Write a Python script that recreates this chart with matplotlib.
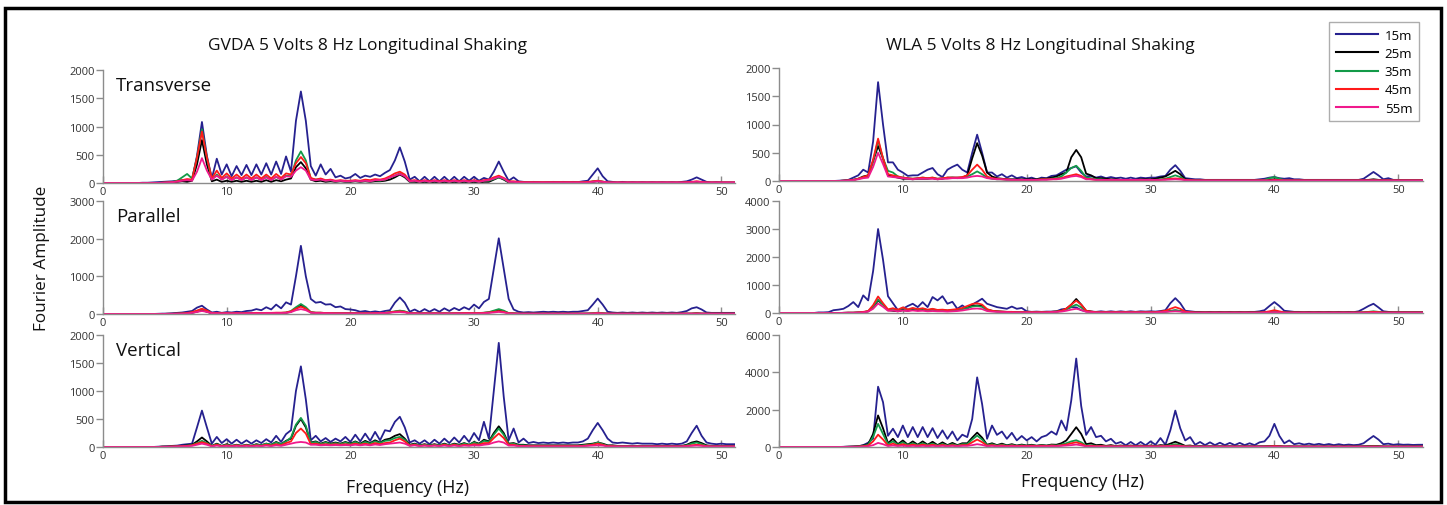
import numpy as np
import matplotlib
matplotlib.use("Agg")
import matplotlib.pyplot as plt
from matplotlib.lines import Line2D
from matplotlib.patches import Rectangle

plt.rcParams["font.family"] = ["Open Sans", "DejaVu Sans"]

freq = np.round(np.arange(131) * 0.4, 1)

depths = ["15m", "25m", "35m", "45m", "55m"]
colors = ["#26218f", "#000000", "#139a48", "#ff1a1a", "#f0198c"]

# GVDA - Transverse
gt15 = [
    0, 0, 0, 0, 0, 0, 0, 0, 5, 5,
    10, 15, 20, 25, 30, 40, 50, 40, 60, 480,
    1080, 480, 80, 430, 150, 330, 120, 300, 140, 320,
    140, 330, 150, 350, 150, 380, 160, 470, 200, 1100,
    1620, 1100, 300, 130, 330, 150, 250, 100, 130, 80,
    100, 160, 90, 130, 110, 150, 120, 180, 230, 400,
    630, 380, 60, 110, 30, 110, 30, 110, 30, 110,
    30, 110, 30, 110, 40, 110, 40, 90, 60, 200,
    380, 200, 40, 100, 30, 20, 15, 20, 15, 10,
    15, 20, 15, 20, 15, 20, 15, 30, 40, 150,
    260, 120, 30, 20, 10, 20, 10, 15, 10, 15,
    10, 15, 10, 15, 10, 15, 10, 20, 30, 60,
    100, 60, 20, 10, 15, 10, 10, 10, 10, 10,
    10,
]
gt25 = [
    0, 0, 0, 0, 0, 0, 0, 0, 0, 0,
    0, 0, 5, 5, 10, 20, 30, 20, 40, 330,
    760, 330, 30, 60, 20, 40, 20, 40, 20, 40,
    20, 40, 20, 50, 20, 50, 30, 60, 80, 280,
    370, 260, 60, 30, 40, 20, 30, 20, 30, 20,
    20, 30, 20, 30, 20, 30, 30, 40, 60, 100,
    150, 100, 20, 20, 10, 20, 10, 20, 10, 20,
    10, 20, 10, 20, 10, 20, 10, 20, 20, 60,
    100, 60, 10, 10, 5, 5, 5, 5, 5, 5,
    5, 5, 5, 5, 5, 5, 5, 5, 10, 20,
    30, 20, 5, 5, 5, 5, 5, 5, 5, 5,
    5, 5, 5, 5, 5, 5, 5, 5, 5, 10,
    20, 10, 5, 5, 5, 5, 5, 5, 5, 5,
    5,
]
gt35 = [
    0, 0, 0, 0, 0, 0, 0, 0, 0, 0,
    0, 0, 5, 10, 20, 40, 100, 160, 80, 450,
    950, 450, 60, 150, 60, 120, 50, 100, 50, 100,
    50, 100, 50, 110, 50, 110, 60, 130, 120, 400,
    560, 400, 80, 60, 70, 40, 50, 30, 40, 30,
    30, 40, 30, 40, 30, 50, 40, 60, 100, 130,
    170, 120, 30, 40, 20, 40, 20, 40, 20, 40,
    20, 40, 20, 40, 20, 40, 20, 40, 40, 70,
    100, 70, 20, 20, 10, 10, 10, 10, 10, 10,
    10, 10, 10, 10, 10, 10, 10, 10, 10, 30,
    40, 25, 10, 5, 5, 5, 5, 5, 5, 5,
    5, 5, 5, 5, 5, 5, 5, 5, 5, 10,
    20, 10, 5, 5, 5, 5, 5, 5, 5, 5,
    5,
]
gt45 = [
    0, 0, 0, 0, 0, 0, 0, 0, 0, 0,
    0, 0, 5, 10, 15, 30, 50, 70, 60, 450,
    910, 450, 80, 220, 90, 170, 80, 150, 80, 150,
    80, 150, 80, 150, 80, 160, 90, 170, 150, 350,
    460, 350, 90, 60, 80, 50, 60, 40, 50, 40,
    40, 50, 40, 60, 50, 70, 60, 80, 120, 170,
    200, 150, 40, 50, 30, 50, 30, 50, 30, 50,
    30, 50, 30, 50, 30, 50, 30, 50, 60, 100,
    130, 90, 30, 30, 20, 15, 15, 15, 15, 15,
    15, 15, 15, 15, 15, 15, 15, 15, 20, 30,
    40, 25, 10, 10, 10, 10, 10, 10, 10, 10,
    10, 10, 10, 10, 10, 10, 10, 10, 15, 20,
    30, 20, 10, 10, 10, 10, 10, 10, 10, 10,
    10,
]
gt55 = [
    0, 0, 0, 0, 0, 0, 0, 0, 0, 0,
    0, 0, 5, 10, 15, 25, 40, 50, 40, 200,
    440, 220, 60, 130, 60, 110, 50, 100, 50, 100,
    50, 100, 50, 100, 50, 110, 60, 120, 110, 220,
    280, 220, 60, 50, 60, 40, 50, 30, 40, 30,
    30, 40, 30, 40, 30, 50, 50, 60, 100, 130,
    160, 120, 30, 40, 20, 40, 20, 40, 20, 40,
    20, 40, 20, 40, 20, 40, 20, 40, 50, 80,
    110, 80, 20, 20, 10, 10, 10, 10, 10, 10,
    10, 10, 10, 10, 10, 10, 10, 10, 10, 20,
    30, 20, 10, 10, 10, 10, 10, 10, 10, 10,
    10, 10, 10, 10, 10, 10, 10, 10, 10, 15,
    25, 15, 10, 10, 10, 10, 10, 10, 10, 10,
    10,
]

# GVDA - Parallel
gp15 = [
    0, 0, 0, 0, 0, 0, 0, 0, 0, 0,
    0, 5, 10, 10, 20, 30, 40, 60, 80, 170,
    220, 120, 40, 60, 30, 50, 40, 60, 50, 80,
    90, 130, 100, 180, 120, 250, 150, 310, 250, 1000,
    1810, 1000, 400, 300, 320, 250, 260, 180, 200, 130,
    120, 100, 60, 80, 50, 70, 50, 80, 100, 300,
    440, 300, 60, 120, 50, 130, 60, 130, 60, 150,
    80, 160, 100, 180, 120, 250, 150, 320, 400, 1200,
    2010, 1200, 400, 120, 60, 40, 50, 40, 50, 60,
    50, 60, 50, 60, 50, 60, 60, 80, 100, 250,
    410, 250, 60, 40, 30, 40, 30, 40, 30, 40,
    30, 40, 30, 40, 30, 40, 30, 50, 80, 150,
    180, 120, 40, 30, 30, 30, 30, 30, 30, 30,
    30,
]
gp25 = [
    0, 0, 0, 0, 0, 0, 0, 0, 0, 0,
    0, 0, 0, 5, 5, 10, 10, 15, 30, 60,
    100, 60, 15, 15, 10, 15, 10, 15, 10, 15,
    15, 20, 15, 20, 20, 25, 25, 30, 60, 150,
    220, 150, 40, 30, 30, 20, 20, 15, 15, 15,
    15, 15, 15, 15, 15, 20, 20, 25, 40, 60,
    80, 60, 15, 15, 10, 15, 10, 15, 10, 15,
    10, 15, 15, 20, 20, 20, 20, 30, 40, 70,
    110, 70, 20, 15, 10, 10, 10, 10, 10, 10,
    10, 10, 10, 10, 10, 10, 10, 10, 10, 15,
    25, 15, 10, 10, 10, 10, 10, 10, 10, 10,
    10, 10, 10, 10, 10, 10, 10, 10, 10, 10,
    20, 10, 10, 10, 10, 10, 10, 10, 10, 10,
    10,
]
gp35 = [
    0, 0, 0, 0, 0, 0, 0, 0, 0, 0,
    0, 0, 0, 5, 5, 10, 15, 20, 40, 80,
    130, 80, 20, 20, 15, 20, 15, 20, 15, 20,
    20, 25, 20, 25, 25, 30, 30, 40, 80, 180,
    265, 180, 50, 35, 35, 25, 25, 20, 20, 20,
    20, 20, 20, 20, 20, 25, 25, 30, 50, 70,
    90, 70, 20, 20, 15, 20, 15, 20, 15, 20,
    15, 20, 20, 25, 25, 25, 25, 35, 50, 90,
    130, 90, 25, 20, 10, 10, 10, 10, 10, 10,
    10, 10, 10, 10, 10, 10, 10, 10, 15, 20,
    35, 20, 10, 10, 10, 10, 10, 10, 10, 10,
    10, 10, 10, 10, 10, 10, 10, 10, 10, 10,
    20, 10, 10, 10, 10, 10, 10, 10, 10, 10,
    10,
]
gp45 = [
    0, 0, 0, 0, 0, 0, 0, 0, 0, 0,
    0, 0, 0, 5, 5, 10, 15, 25, 50, 90,
    140, 90, 25, 25, 20, 25, 20, 25, 20, 25,
    25, 30, 25, 30, 30, 35, 35, 40, 70, 140,
    195, 140, 45, 35, 35, 25, 25, 20, 20, 20,
    20, 20, 20, 20, 20, 25, 25, 30, 45, 60,
    70, 55, 20, 20, 15, 20, 15, 20, 15, 20,
    15, 20, 20, 25, 25, 25, 25, 30, 40, 55,
    75, 55, 20, 15, 10, 10, 10, 10, 10, 10,
    10, 10, 10, 10, 10, 10, 10, 10, 10, 15,
    25, 15, 10, 10, 10, 10, 10, 10, 10, 10,
    10, 10, 10, 10, 10, 10, 10, 10, 10, 10,
    15, 10, 10, 10, 10, 10, 10, 10, 10, 10,
    10,
]
gp55 = [
    0, 0, 0, 0, 0, 0, 0, 0, 0, 0,
    0, 0, 0, 5, 5, 10, 10, 15, 30, 55,
    80, 55, 20, 20, 15, 20, 15, 20, 15, 20,
    20, 20, 20, 25, 25, 25, 25, 30, 50, 100,
    130, 100, 35, 25, 25, 20, 20, 15, 15, 15,
    15, 15, 15, 15, 15, 20, 20, 25, 35, 45,
    50, 40, 15, 15, 10, 15, 10, 15, 10, 15,
    10, 15, 15, 15, 15, 15, 15, 20, 30, 40,
    55, 40, 15, 10, 10, 10, 10, 10, 10, 10,
    10, 10, 10, 10, 10, 10, 10, 10, 10, 10,
    20, 10, 10, 10, 10, 10, 10, 10, 10, 10,
    10, 10, 10, 10, 10, 10, 10, 10, 10, 10,
    10, 10, 10, 10, 10, 10, 10, 10, 10, 10,
    10,
]

# GVDA - Vertical
gv15 = [
    0, 0, 0, 0, 0, 0, 0, 0, 0, 0,
    0, 5, 10, 15, 20, 25, 40, 50, 60, 350,
    650, 350, 60, 180, 70, 140, 60, 130, 60, 120,
    60, 120, 70, 140, 80, 200, 90, 230, 300, 1000,
    1440, 850, 120, 200, 100, 160, 90, 150, 100, 180,
    90, 220, 100, 240, 110, 270, 120, 300, 280, 450,
    540, 350, 80, 120, 60, 120, 50, 130, 60, 150,
    70, 170, 80, 200, 90, 250, 120, 450, 150, 1000,
    1860, 900, 120, 330, 80, 150, 70, 90, 70, 80,
    70, 80, 70, 80, 70, 80, 80, 100, 150, 300,
    430, 300, 150, 80, 70, 80, 70, 60, 70, 60,
    60, 60, 50, 60, 50, 60, 50, 60, 100, 250,
    380, 200, 80, 60, 50, 60, 50, 50, 50, 50,
    50,
]
gv25 = [
    0, 0, 0, 0, 0, 0, 0, 0, 0, 0,
    0, 0, 5, 5, 10, 10, 20, 30, 40, 100,
    170, 100, 20, 60, 20, 50, 20, 40, 20, 40,
    20, 50, 30, 60, 40, 90, 50, 110, 150, 380,
    500, 350, 80, 100, 60, 90, 60, 80, 60, 90,
    60, 100, 60, 110, 70, 120, 80, 130, 150, 200,
    230, 150, 40, 60, 30, 50, 30, 50, 30, 60,
    30, 60, 40, 70, 40, 90, 60, 130, 100, 250,
    370, 250, 60, 70, 40, 40, 30, 30, 30, 30,
    30, 30, 30, 30, 30, 30, 30, 40, 50, 60,
    80, 60, 30, 30, 20, 20, 20, 20, 20, 20,
    20, 20, 20, 20, 20, 20, 20, 20, 40, 80,
    100, 70, 30, 20, 20, 20, 20, 20, 20, 20,
    20,
]
gv35 = [
    0, 0, 0, 0, 0, 0, 0, 0, 0, 0,
    0, 0, 5, 5, 10, 10, 15, 25, 35, 70,
    110, 70, 20, 50, 20, 40, 20, 35, 20, 35,
    20, 45, 30, 60, 40, 80, 50, 100, 170, 400,
    520, 380, 70, 90, 50, 80, 50, 70, 50, 80,
    50, 90, 50, 90, 60, 100, 70, 110, 120, 160,
    180, 130, 30, 50, 30, 40, 30, 40, 30, 50,
    30, 50, 30, 60, 40, 80, 50, 110, 90, 220,
    330, 220, 50, 60, 30, 30, 20, 20, 20, 20,
    20, 20, 20, 20, 20, 20, 20, 30, 40, 50,
    80, 50, 20, 20, 15, 15, 15, 15, 15, 15,
    15, 15, 15, 15, 15, 15, 15, 15, 30, 60,
    80, 50, 20, 15, 15, 15, 15, 15, 15, 15,
    15,
]
gv45 = [
    0, 0, 0, 0, 0, 0, 0, 0, 0, 0,
    0, 0, 5, 5, 10, 10, 15, 20, 30, 60,
    85, 60, 15, 40, 15, 30, 15, 30, 15, 30,
    15, 30, 20, 40, 25, 50, 30, 70, 100, 250,
    330, 240, 50, 60, 40, 50, 40, 50, 40, 50,
    40, 60, 40, 60, 40, 70, 50, 70, 80, 120,
    150, 100, 25, 40, 20, 30, 20, 30, 20, 40,
    20, 40, 20, 40, 30, 50, 40, 70, 70, 160,
    240, 160, 40, 40, 20, 20, 15, 15, 15, 15,
    15, 15, 15, 15, 15, 15, 15, 20, 30, 40,
    60, 40, 15, 15, 10, 10, 10, 10, 10, 10,
    10, 10, 10, 10, 10, 10, 10, 10, 20, 30,
    40, 30, 15, 10, 10, 10, 10, 10, 10, 10,
    10,
]
gv55 = [
    0, 0, 0, 0, 0, 0, 0, 0, 0, 0,
    0, 0, 0, 5, 5, 10, 10, 15, 20, 40,
    60, 40, 10, 25, 10, 20, 10, 20, 10, 20,
    10, 20, 15, 25, 15, 30, 20, 40, 60, 80,
    90, 80, 40, 40, 30, 35, 30, 35, 30, 35,
    30, 40, 30, 40, 30, 45, 35, 50, 60, 70,
    80, 60, 20, 30, 15, 25, 15, 25, 15, 25,
    15, 25, 15, 25, 20, 30, 25, 40, 50, 80,
    100, 80, 25, 25, 15, 15, 10, 10, 10, 10,
    10, 10, 10, 10, 10, 10, 10, 15, 20, 25,
    30, 25, 10, 10, 10, 10, 10, 10, 10, 10,
    10, 10, 10, 10, 10, 10, 10, 10, 15, 20,
    25, 20, 10, 10, 10, 10, 10, 10, 10, 10,
    10,
]

# WLA - Transverse
wt15 = [
    0, 0, 0, 0, 0, 0, 0, 0, 0, 0,
    0, 0, 5, 10, 20, 60, 100, 200, 150, 700,
    1750, 1000, 330, 330, 200, 150, 90, 100, 100, 150,
    200, 230, 120, 70, 200, 250, 290, 200, 150, 500,
    820, 500, 150, 150, 80, 120, 60, 100, 50, 70,
    40, 60, 30, 60, 50, 90, 100, 150, 200, 230,
    260, 150, 80, 90, 60, 80, 50, 70, 50, 60,
    40, 60, 40, 60, 50, 60, 60, 80, 90, 200,
    280, 180, 50, 40, 30, 30, 20, 20, 20, 20,
    20, 20, 20, 20, 20, 20, 20, 30, 40, 60,
    70, 50, 40, 50, 30, 30, 20, 20, 20, 20,
    20, 20, 20, 20, 20, 20, 20, 20, 40, 100,
    160, 100, 30, 50, 20, 20, 15, 15, 15, 15,
    15,
]
wt25 = [
    0, 0, 0, 0, 0, 0, 0, 0, 0, 0,
    0, 0, 0, 5, 10, 20, 40, 80, 100, 350,
    620, 400, 100, 80, 60, 40, 40, 30, 40, 40,
    40, 50, 30, 40, 60, 60, 60, 60, 100, 400,
    670, 450, 150, 80, 50, 40, 30, 30, 30, 30,
    30, 30, 30, 40, 40, 60, 80, 120, 150, 420,
    550, 420, 130, 100, 50, 50, 40, 30, 30, 20,
    20, 20, 20, 30, 30, 30, 40, 60, 80, 130,
    180, 120, 30, 20, 15, 15, 15, 15, 15, 15,
    15, 15, 15, 15, 15, 15, 15, 15, 15, 20,
    30, 20, 15, 15, 15, 15, 15, 15, 15, 15,
    15, 15, 15, 15, 15, 15, 15, 15, 15, 20,
    30, 20, 15, 15, 15, 15, 15, 15, 15, 15,
    15,
]
wt35 = [
    0, 0, 0, 0, 0, 0, 0, 0, 0, 0,
    0, 0, 0, 5, 10, 20, 40, 60, 80, 350,
    720, 400, 180, 150, 80, 60, 50, 40, 50, 60,
    50, 60, 40, 50, 50, 60, 50, 60, 80, 120,
    170, 120, 60, 40, 30, 30, 20, 20, 20, 20,
    20, 20, 20, 30, 30, 40, 50, 80, 150, 230,
    270, 180, 60, 50, 30, 30, 20, 20, 20, 20,
    20, 20, 20, 20, 20, 20, 20, 30, 40, 70,
    100, 70, 20, 15, 10, 10, 10, 10, 10, 10,
    10, 10, 10, 10, 10, 10, 10, 10, 20, 50,
    70, 40, 15, 10, 10, 10, 10, 10, 10, 10,
    10, 10, 10, 10, 10, 10, 10, 10, 10, 10,
    15, 10, 10, 10, 10, 10, 10, 10, 10, 10,
    10,
]
wt45 = [
    0, 0, 0, 0, 0, 0, 0, 0, 0, 0,
    0, 0, 0, 5, 10, 20, 40, 70, 100, 380,
    750, 400, 120, 100, 80, 60, 50, 40, 50, 60,
    50, 60, 40, 50, 60, 60, 60, 70, 100, 200,
    290, 200, 80, 50, 40, 30, 30, 20, 20, 20,
    20, 20, 20, 30, 30, 30, 40, 50, 80, 100,
    120, 90, 40, 30, 20, 20, 20, 20, 20, 20,
    20, 20, 20, 20, 20, 20, 20, 20, 30, 40,
    45, 40, 20, 15, 10, 10, 10, 10, 10, 10,
    10, 10, 10, 10, 10, 10, 10, 10, 10, 10,
    20, 15, 10, 10, 10, 10, 10, 10, 10, 10,
    10, 10, 10, 10, 10, 10, 10, 10, 10, 10,
    10, 10, 10, 10, 10, 10, 10, 10, 10, 10,
    10,
]
wt55 = [
    0, 0, 0, 0, 0, 0, 0, 0, 0, 0,
    0, 0, 0, 5, 10, 15, 30, 50, 60, 250,
    500, 300, 80, 70, 60, 50, 40, 30, 40, 40,
    40, 40, 30, 40, 40, 50, 50, 50, 60, 80,
    90, 80, 50, 40, 30, 30, 20, 20, 20, 20,
    20, 20, 20, 20, 20, 30, 30, 40, 60, 80,
    90, 70, 30, 30, 20, 20, 20, 20, 20, 20,
    20, 20, 20, 20, 20, 20, 20, 20, 20, 25,
    30, 25, 15, 10, 10, 10, 10, 10, 10, 10,
    10, 10, 10, 10, 10, 10, 10, 10, 10, 10,
    10, 10, 10, 10, 10, 10, 10, 10, 10, 10,
    10, 10, 10, 10, 10, 10, 10, 10, 10, 10,
    10, 10, 10, 10, 10, 10, 10, 10, 10, 10,
    10,
]

# WLA - Parallel
wp15 = [
    0, 0, 0, 0, 0, 0, 0, 0, 20, 20,
    30, 100, 120, 150, 250, 390, 210, 630, 450, 1500,
    3000, 1900, 600, 350, 100, 150, 250, 330, 210, 390,
    210, 570, 450, 600, 330, 400, 150, 270, 150, 300,
    400, 510, 330, 270, 210, 180, 150, 230, 150, 180,
    60, 40, 50, 40, 50, 50, 60, 130, 150, 210,
    200, 100, 60, 50, 40, 60, 40, 60, 40, 60,
    40, 60, 40, 60, 50, 60, 50, 70, 100, 350,
    530, 350, 80, 60, 40, 40, 30, 40, 30, 40,
    30, 40, 30, 40, 30, 40, 40, 60, 100, 250,
    390, 250, 80, 60, 40, 40, 30, 40, 30, 40,
    30, 40, 30, 40, 30, 40, 30, 60, 150, 250,
    330, 200, 60, 40, 30, 30, 30, 30, 30, 30,
    30,
]
wp25 = [
    0, 0, 0, 0, 0, 0, 0, 0, 0, 0,
    0, 0, 0, 5, 10, 10, 20, 30, 60, 200,
    450, 300, 100, 80, 60, 100, 80, 120, 100, 120,
    100, 120, 100, 100, 80, 100, 120, 150, 200, 250,
    270, 250, 120, 80, 60, 50, 40, 40, 30, 30,
    30, 30, 30, 30, 30, 40, 50, 80, 150, 300,
    500, 300, 80, 50, 30, 30, 30, 30, 30, 30,
    30, 30, 30, 30, 30, 30, 30, 40, 50, 70,
    90, 70, 30, 20, 15, 15, 15, 15, 15, 15,
    15, 15, 15, 15, 15, 15, 15, 15, 20, 30,
    40, 30, 15, 15, 15, 15, 15, 15, 15, 15,
    15, 15, 15, 15, 15, 15, 15, 15, 20, 30,
    40, 30, 15, 15, 15, 15, 15, 15, 15, 15,
    15,
]
wp35 = [
    0, 0, 0, 0, 0, 0, 0, 0, 0, 0,
    0, 0, 0, 5, 10, 10, 20, 30, 60, 220,
    480, 300, 100, 150, 100, 180, 120, 160, 120, 150,
    100, 130, 100, 100, 80, 100, 110, 140, 180, 230,
    250, 220, 100, 70, 50, 40, 40, 30, 30, 30,
    30, 30, 30, 30, 30, 40, 50, 70, 120, 220,
    300, 200, 60, 40, 30, 30, 30, 30, 30, 30,
    30, 30, 30, 30, 30, 30, 30, 40, 50, 70,
    100, 70, 30, 20, 15, 15, 15, 15, 15, 15,
    15, 15, 15, 15, 15, 15, 15, 15, 20, 40,
    50, 30, 15, 15, 15, 15, 15, 15, 15, 15,
    15, 15, 15, 15, 15, 15, 15, 15, 20, 40,
    60, 40, 15, 15, 15, 15, 15, 15, 15, 15,
    15,
]
wp45 = [
    0, 0, 0, 0, 0, 0, 0, 0, 0, 0,
    0, 0, 0, 5, 10, 10, 20, 40, 70, 280,
    590, 350, 130, 170, 120, 200, 130, 180, 140, 170,
    120, 150, 110, 120, 100, 120, 140, 180, 250, 320,
    350, 300, 140, 80, 60, 50, 40, 40, 30, 30,
    30, 30, 30, 30, 30, 40, 50, 80, 160, 300,
    440, 300, 80, 50, 30, 30, 30, 30, 30, 30,
    30, 30, 30, 30, 30, 30, 30, 50, 80, 150,
    210, 150, 50, 30, 20, 20, 20, 20, 20, 20,
    20, 20, 20, 20, 20, 20, 20, 20, 30, 60,
    100, 60, 20, 20, 20, 20, 20, 20, 20, 20,
    20, 20, 20, 20, 20, 20, 20, 20, 20, 30,
    40, 30, 20, 20, 20, 20, 20, 20, 20, 20,
    20,
]
wp55 = [
    0, 0, 0, 0, 0, 0, 0, 0, 0, 0,
    0, 0, 0, 5, 10, 10, 15, 25, 50, 150,
    340, 220, 80, 90, 60, 90, 70, 90, 70, 80,
    60, 70, 60, 60, 50, 60, 70, 90, 120, 150,
    160, 140, 70, 50, 40, 30, 30, 20, 20, 20,
    20, 20, 20, 20, 20, 30, 40, 50, 80, 120,
    150, 110, 40, 30, 20, 20, 20, 20, 20, 20,
    20, 20, 20, 20, 20, 20, 20, 30, 40, 50,
    60, 50, 20, 15, 10, 10, 10, 10, 10, 10,
    10, 10, 10, 10, 10, 10, 10, 10, 15, 20,
    30, 20, 10, 10, 10, 10, 10, 10, 10, 10,
    10, 10, 10, 10, 10, 10, 10, 10, 10, 10,
    15, 10, 10, 10, 10, 10, 10, 10, 10, 10,
    10,
]

# WLA - Vertical
wv15 = [
    0, 0, 0, 0, 0, 0, 0, 0, 0, 0,
    0, 0, 0, 10, 20, 30, 40, 100, 230, 450,
    3230, 2400, 600, 980, 530, 1150, 530, 1070, 530, 1070,
    530, 1010, 480, 890, 440, 830, 355, 660, 530, 1500,
    3730, 2300, 440, 1150, 650, 830, 440, 760, 355, 590,
    355, 530, 300, 530, 620, 830, 660, 1420, 890, 2500,
    4740, 2200, 650, 1070, 530, 600, 300, 440, 180, 270,
    90, 270, 90, 270, 90, 300, 120, 480, 120, 900,
    1950, 1000, 350, 530, 120, 270, 100, 250, 100, 230,
    100, 220, 100, 220, 100, 200, 100, 250, 300, 600,
    1240, 600, 200, 355, 150, 200, 130, 180, 120, 170,
    110, 160, 100, 150, 100, 130, 100, 120, 200, 400,
    590, 400, 150, 180, 120, 150, 120, 130, 110, 120,
    120,
]
wv25 = [
    0, 0, 0, 0, 0, 0, 0, 0, 0, 0,
    0, 0, 0, 5, 10, 20, 40, 80, 150, 700,
    1690, 1000, 200, 440, 150, 350, 120, 300, 120, 300,
    120, 280, 100, 250, 100, 220, 100, 200, 200, 500,
    770, 500, 120, 200, 100, 180, 90, 150, 80, 130,
    80, 120, 70, 110, 80, 130, 120, 200, 350, 700,
    1060, 700, 150, 200, 100, 120, 60, 100, 50, 80,
    40, 80, 40, 80, 40, 80, 50, 100, 80, 180,
    280, 180, 60, 80, 30, 50, 30, 40, 30, 40,
    30, 40, 30, 40, 30, 40, 30, 40, 40, 50,
    60, 50, 30, 40, 30, 30, 30, 30, 30, 30,
    30, 30, 30, 30, 30, 30, 30, 30, 40, 50,
    60, 50, 30, 30, 30, 30, 30, 30, 30, 30,
    30,
]
wv35 = [
    0, 0, 0, 0, 0, 0, 0, 0, 0, 0,
    0, 0, 0, 5, 10, 15, 30, 60, 120, 550,
    1240, 700, 150, 300, 120, 250, 100, 200, 100, 200,
    100, 180, 80, 160, 80, 150, 80, 150, 150, 400,
    610, 400, 100, 150, 80, 130, 70, 110, 60, 100,
    60, 90, 60, 90, 60, 100, 80, 130, 200, 300,
    360, 250, 80, 100, 60, 70, 40, 60, 40, 50,
    30, 50, 30, 50, 30, 50, 40, 60, 60, 100,
    150, 100, 40, 50, 20, 30, 20, 30, 20, 30,
    20, 20, 20, 20, 20, 20, 20, 20, 20, 30,
    40, 30, 20, 20, 20, 20, 20, 20, 20, 20,
    20, 20, 20, 20, 20, 20, 20, 20, 20, 30,
    40, 30, 20, 20, 20, 20, 20, 20, 20, 20,
    20,
]
wv45 = [
    0, 0, 0, 0, 0, 0, 0, 0, 0, 0,
    0, 0, 0, 5, 10, 10, 20, 40, 80, 300,
    660, 400, 80, 180, 80, 150, 70, 130, 70, 130,
    70, 120, 60, 110, 60, 100, 60, 100, 100, 250,
    400, 260, 70, 100, 60, 90, 50, 80, 50, 70,
    50, 70, 50, 70, 50, 80, 60, 90, 130, 200,
    250, 170, 50, 70, 40, 50, 30, 40, 30, 40,
    30, 40, 30, 40, 30, 40, 30, 40, 40, 60,
    80, 60, 30, 30, 20, 20, 20, 20, 20, 20,
    20, 20, 20, 20, 20, 20, 20, 20, 20, 30,
    50, 30, 20, 20, 20, 20, 20, 20, 20, 20,
    20, 20, 20, 20, 20, 20, 20, 20, 20, 20,
    30, 20, 20, 20, 20, 20, 20, 20, 20, 20,
    20,
]
wv55 = [
    0, 0, 0, 0, 0, 0, 0, 0, 0, 0,
    0, 0, 0, 5, 5, 10, 15, 20, 40, 100,
    220, 150, 50, 80, 50, 70, 40, 60, 40, 60,
    40, 60, 40, 60, 40, 60, 40, 60, 60, 100,
    150, 110, 40, 60, 40, 50, 30, 50, 30, 40,
    30, 40, 30, 40, 30, 50, 40, 60, 80, 100,
    130, 90, 30, 40, 20, 30, 20, 30, 20, 30,
    20, 30, 20, 30, 20, 30, 20, 30, 30, 40,
    50, 40, 20, 20, 15, 15, 15, 15, 15, 15,
    15, 15, 15, 15, 15, 15, 15, 15, 15, 15,
    20, 15, 15, 15, 15, 15, 15, 15, 15, 15,
    15, 15, 15, 15, 15, 15, 15, 15, 15, 15,
    15, 15, 15, 15, 15, 15, 15, 15, 15, 15,
    15,
]

# --- Layout (pixel boxes of the original figure) ---
W, H = 1447, 506
fig = plt.figure(figsize=(W / 100, H / 100), dpi=100)


def px_axes(x0, x1, y0, y1):
    return fig.add_axes([x0 / W, 1 - y1 / H, (x1 - x0) / W, (y1 - y0) / H])


panels = [
    # (x0, x1, ytop, ybottom, xmax, ymax, ystep, label, series)
    (103, 735, 71, 184, 51.1, 2000, 500, "Transverse", [gt15, gt25, gt35, gt45, gt55]),
    (103, 735, 202, 315, 51.1, 3000, 1000, "Parallel", [gp15, gp25, gp35, gp45, gp55]),
    (103, 735, 336, 448, 51.1, 2000, 500, "Vertical", [gv15, gv25, gv35, gv45, gv55]),
    (779, 1423, 69, 182, 52, 2000, 500, None, [wt15, wt25, wt35, wt45, wt55]),
    (779, 1423, 202, 314, 52, 4000, 1000, None, [wp15, wp25, wp35, wp45, wp55]),
    (779, 1423, 336, 448, 52, 6000, 2000, None, [wv15, wv25, wv35, wv45, wv55]),
]

gray = "#8c8c8c"
for x0, x1, y0, y1, xmax, ymax, ystep, label, series in panels:
    ax = px_axes(x0, x1, y0, y1)
    for vals, c in zip(series, colors):
        ax.plot(freq, vals, color=c, lw=1.3, solid_joinstyle="round")
    ax.set_xlim(0, xmax)
    ax.set_ylim(0, ymax)
    ax.set_xticks([0, 10, 20, 30, 40, 50])
    ax.set_yticks(np.arange(0, ymax + 1, ystep))
    for s in ["top", "right"]:
        ax.spines[s].set_visible(False)
    for s in ["left", "bottom"]:
        ax.spines[s].set_color(gray)
        ax.spines[s].set_linewidth(1)
    ax.tick_params(axis="y", direction="out", length=5, width=1, color=gray,
                   labelsize=8, labelcolor="#333333", pad=1)
    ax.tick_params(axis="x", direction="in", length=5, width=1, color=gray,
                   labelsize=8, labelcolor="#333333", pad=2)
    ax.set_facecolor("none")
    if label:
        ax.text(0.02, 0.87, label, transform=ax.transAxes, fontsize=13.5,
                color="#111111", va="center", ha="left")

fig.text(368 / W, 1 - 46 / H, "GVDA 5 Volts 8 Hz Longitudinal Shaking",
         fontsize=12.5, ha="center", va="center", color="#111111")
fig.text(1040 / W, 1 - 46 / H, "WLA 5 Volts 8 Hz Longitudinal Shaking",
         fontsize=12.5, ha="center", va="center", color="#111111")
fig.text(42 / W, 1 - 258 / H, "Fourier Amplitude", rotation=90,
         fontsize=12.3, ha="center", va="center", color="#111111")
fig.text(408 / W, 1 - 488 / H, "Frequency (Hz)", fontsize=12.8,
         ha="center", va="center", color="#111111")
fig.text(1083 / W, 1 - 482 / H, "Frequency (Hz)", fontsize=12.8,
         ha="center", va="center", color="#111111")

handles = [Line2D([], [], color=c, lw=1.5) for c in colors]
leg = fig.legend(handles, depths, loc="upper right",
                 bbox_to_anchor=(1419 / W, 1 - 23 / H), frameon=True,
                 fancybox=False, borderaxespad=0, handlelength=3.2,
                 fontsize=9.5, labelspacing=0.4, handletextpad=0.5,
                 borderpad=0.5)
leg.get_frame().set_edgecolor("#999999")
leg.get_frame().set_linewidth(1)

fig.add_artist(Rectangle((5 / W, 3 / H), 1436 / W, 494 / H, transform=fig.transFigure,
                         fill=False, edgecolor="black", lw=2.5))

fig.savefig("out.png", dpi=100)
